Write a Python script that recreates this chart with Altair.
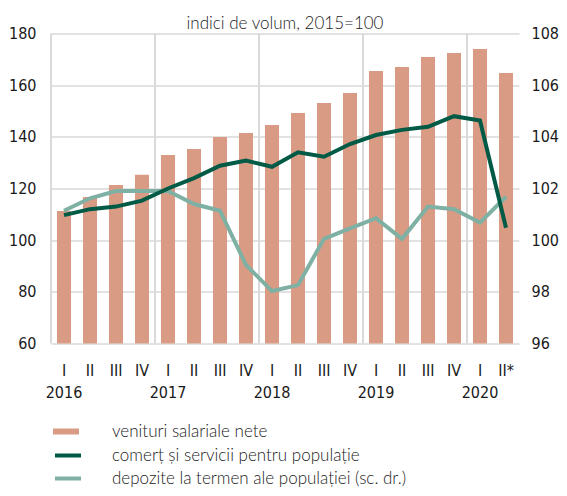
import altair as alt
import pandas as pd

quarters = ["I", "II", "III", "IV", "I", "II", "III", "IV", "I", "II", "III", "IV",
            "I", "II", "III", "IV", "I", "II*"]
years = ["2016"] * 4 + ["2017"] * 4 + ["2018"] * 4 + ["2019"] * 4 + ["2020"] * 2
venituri = [111.3, 116.7, 121.4, 125.3, 133.0, 135.3, 139.9, 141.5, 144.6,
            149.2, 153.1, 157.0, 165.5, 167.0, 170.9, 172.5, 174.0, 164.7]
comert = [109.7, 112.0, 113.0, 115.3, 120.0, 124.0, 128.8, 130.8, 128.4,
          134.0, 132.3, 137.2, 140.7, 142.7, 143.9, 148.0, 146.3, 104.8]
depozite = [101.14, 101.62, 101.9, 101.9, 101.9, 101.4, 101.14, 99.04, 98.03,
            98.26, 100.05, 100.46, 100.85, 100.05, 101.3, 101.2, 100.68, 101.68]

S_BAR = "venituri salariale nete"
S_COM = "comerț și servicii pentru populație"
S_DEP = "depozite la termen ale populației (sc. dr.)"

keys = [f"{y} {q}" for y, q in zip(years, quarters)]
df = pd.DataFrame({"key": keys, "q": quarters, "year": years,
                   "venituri": venituri, "comert": comert, "depozite": depozite})
df["s_bar"] = S_BAR
df["s_com"] = S_COM
df["s_dep"] = S_DEP

AX_FONT = "Liberation Sans Narrow, DejaVu Sans Condensed, Roboto, sans-serif"
TX_FONT = "Lato"
GRID = "#d9d9d9"
AX_SIZE = 16
XSCALE = alt.Scale(paddingInner=0, paddingOuter=0)

# quarter labels axis (bars layer)
x_quarters = alt.X("key:N", sort=keys, title=None, scale=XSCALE,
                   axis=alt.Axis(orient="bottom",
                                 labelExpr="split(datum.value,' ')[1]",
                                 labelAngle=0, ticks=False, domain=False, grid=False,
                                 labelPadding=19, labelFontSize=AX_SIZE,
                                 labelFont=AX_FONT, labelColor="#1a1a1a"))
# year labels axis (year-boundary rules layer)
x_years = alt.X("key:N", sort=keys, title=None, bandPosition=0,
                axis=alt.Axis(orient="bottom",
                              labelExpr="split(datum.value,' ')[1] == 'I' ? split(datum.value,' ')[0] : ''",
                              labelAngle=0, ticks=False, domain=False, grid=False,
                              labelPadding=41, labelFontSize=AX_SIZE, labelBound=False,
                              labelOverlap=False,
                              labelFont=AX_FONT, labelColor="#1a1a1a"))

yleft = alt.Y("venituri:Q", title=None,
              scale=alt.Scale(domain=[60, 180], zero=False, nice=False),
              axis=alt.Axis(values=[60, 80, 100, 120, 140, 160, 180], grid=True,
                            gridColor=GRID, gridWidth=1.5, domain=False, ticks=False,
                            labelPadding=15, labelFontSize=AX_SIZE, labelFont=AX_FONT,
                            labelColor="#1a1a1a"))

bars = alt.Chart(df).mark_bar(width=alt.RelativeBandSize(0.54)).encode(
    x=x_quarters,
    y=yleft,
    y2=alt.datum(60),
    color=alt.Color("s_bar:N", scale=alt.Scale(domain=[S_BAR], range=["#d99b84"]),
                    legend=alt.Legend(title=None, orient="none", legendX=2, legendY=385,
                                      symbolType="M-1,-0.23H1V0.23H-1Z", symbolSize=676,
                                      symbolStrokeWidth=0, labelFont=TX_FONT,
                                      labelFontSize=17, labelFontWeight=300,
                                      labelColor="#222", labelOffset=33, labelLimit=0,
                                      padding=0)),
)

rules = alt.Chart(df).transform_filter(alt.datum.q == "I").mark_rule(
    color=GRID, strokeWidth=2).encode(x=x_years)

base = alt.layer(rules, bars).resolve_axis(x="independent")

line_dep = alt.Chart(df).mark_line(strokeWidth=4).encode(
    x=alt.X("key:N", sort=keys, axis=None),
    y=alt.Y("depozite:Q", title=None,
            scale=alt.Scale(domain=[96, 108], zero=False, nice=False),
            axis=alt.Axis(orient="right", values=[96, 98, 100, 102, 104, 106, 108],
                          grid=False, domain=False, ticks=False, labelPadding=12,
                          labelFontSize=AX_SIZE, labelFont=AX_FONT, labelColor="#1a1a1a")),
    stroke=alt.Stroke("s_dep:N", scale=alt.Scale(domain=[S_COM, S_DEP],
                                                 range=["#005a45", "#7fb0a4"]),
                      legend=alt.Legend(title=None, orient="none", legendX=2, legendY=407,
                                        symbolType="M-1,0H1", symbolSize=676,
                                        symbolStrokeWidth=4, labelFont=TX_FONT,
                                        labelFontSize=17, labelFontWeight=300,
                                        labelColor="#222", labelOffset=29, labelLimit=0,
                                        padding=0, rowPadding=0)),
)

line_com = alt.Chart(df).mark_line(strokeWidth=4).encode(
    x=alt.X("key:N", sort=keys, axis=None),
    y=alt.Y("comert:Q", axis=None,
            scale=alt.Scale(domain=[60, 180], zero=False, nice=False)),
    stroke=alt.Stroke("s_com:N"),
)

chart = alt.layer(base, line_dep, line_com).resolve_scale(y="independent").properties(
    width=468, height=310,
    autosize=alt.AutoSizeParams(type="none"),
    padding={"left": 43, "top": 25.5, "right": 40, "bottom": 144},
    title=alt.TitleParams("indici de volum, 2015=100", font=TX_FONT, fontSize=17,
                          fontWeight=300, color="#222", offset=-7, anchor="middle"),
).configure_view(stroke=None)

chart.save("out.html", embed_options={"renderer": "svg", "actions": False})
